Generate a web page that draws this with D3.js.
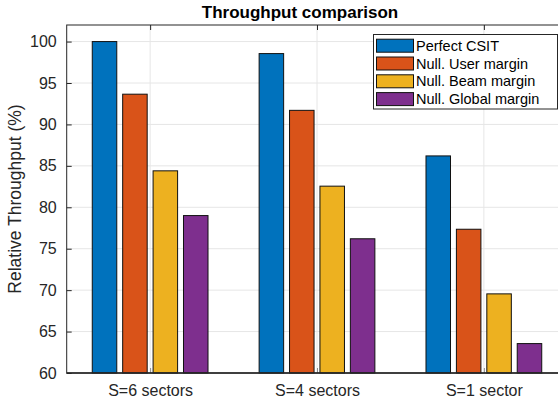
<!DOCTYPE html>
<html lang="en">
  <head>
    <meta charset="UTF-8" />
    <script src="https://d3js.org/d3.v7.min.js"></script>
    <style>
      body {
        margin: 0;
        background: #ffffff;
      }
      svg {
        font-family: "Liberation Sans", Arial, Helvetica, sans-serif;
        display: block;
      }
    </style>
  </head>
  <body>
    <div id="chart"></div>
    <script>
      // Data
      var categories = ["S=6 sectors", "S=4 sectors", "S=1 sector"];
      var seriesNames = [
        "Perfect CSIT",
        "Null. User margin",
        "Null. Beam margin",
        "Null. Global margin",
      ];
      var perfectCsit = [100, 98.55, 86.2];
      var userMargin = [93.65, 91.7, 77.35];
      var beamMargin = [84.4, 82.55, 69.55];
      var globalMargin = [79.0, 76.2, 63.55];
      var yTicks = [60, 65, 70, 75, 80, 85, 90, 95, 100];
      var seriesColors = ["#0072bd", "#d95319", "#edb120", "#7e2f8e"];

      var seriesValues = [perfectCsit, userMargin, beamMargin, globalMargin];

      var width = 558;
      var height = 401;
      var plot = { left: 66.7, top: 25, bottom: 373, right: 567.3 };
      var axisColor = "#262626";

      var svg = d3
        .select("#chart")
        .append("svg")
        .attr("width", width)
        .attr("height", height);

      // Scales: x positions groups at 1..3 like MATLAB's bar()
      var x = d3.scaleLinear().domain([0.5, 3.5]).range([plot.left, plot.right]);
      var y = d3.scaleLinear().domain([60, 102]).range([plot.bottom, plot.top]);
      var inner = d3
        .scaleBand()
        .domain(seriesNames)
        .range([-0.3645, 0.3645])
        .paddingInner(0.194)
        .paddingOuter(0.097);

      // Grid lines
      svg
        .append("g")
        .selectAll("line.hgrid")
        .data(yTicks)
        .enter()
        .append("line")
        .attr("class", "hgrid")
        .attr("x1", plot.left)
        .attr("x2", plot.right)
        .attr("y1", (d) => y(d))
        .attr("y2", (d) => y(d))
        .attr("stroke", "#e6e6e6")
        .attr("stroke-width", 1);

      svg
        .append("g")
        .selectAll("line.vgrid")
        .data(categories)
        .enter()
        .append("line")
        .attr("class", "vgrid")
        .attr("x1", (d, i) => x(i + 1))
        .attr("x2", (d, i) => x(i + 1))
        .attr("y1", plot.top)
        .attr("y2", plot.bottom)
        .attr("stroke", "#e6e6e6")
        .attr("stroke-width", 1);

      // Bars, one group per category
      var rows = [];
      categories.forEach(function (c, i) {
        seriesNames.forEach(function (s, j) {
          rows.push({ cat: i + 1, series: s, idx: j, value: seriesValues[j][i] });
        });
      });

      svg
        .append("g")
        .selectAll("rect")
        .data(rows)
        .enter()
        .append("rect")
        .attr("x", (d) => x(d.cat + inner(d.series)))
        .attr("y", (d) => y(d.value))
        .attr("width", (d) => x(d.cat + inner.bandwidth()) - x(d.cat))
        .attr("height", (d) => y(60) - y(d.value))
        .attr("fill", (d) => seriesColors[d.idx])
        .attr("stroke", "#111111")
        .attr("stroke-width", 1);

      // Axes (box on, ticks inward)
      var yAxis = d3
        .axisLeft(y)
        .tickValues(yTicks)
        .tickSize(-5)
        .tickPadding(10)
        .tickFormat(d3.format("d"));
      var gy = svg
        .append("g")
        .attr("transform", "translate(" + plot.left + ",0)")
        .call(yAxis);
      gy.select(".domain").remove();
      gy.selectAll("line").attr("stroke", axisColor);
      gy.selectAll("text")
        .attr("fill", axisColor)
        .style("font-size", "16px");

      var xAxis = d3
        .axisBottom(x)
        .tickValues([1, 2, 3])
        .tickSize(-5)
        .tickPadding(12)
        .tickFormat((d) => categories[d - 1]);
      var gx = svg
        .append("g")
        .attr("transform", "translate(0," + plot.bottom + ")")
        .call(xAxis);
      gx.select(".domain").remove();
      gx.selectAll("line").attr("stroke", "#8c8c8c");
      gx.selectAll("text")
        .attr("fill", axisColor)
        .style("font-size", "16px");

      var gTop = svg
        .append("g")
        .attr("transform", "translate(0," + plot.top + ")")
        .call(d3.axisTop(x).tickValues([1, 2, 3]).tickSize(-5).tickFormat(""));
      gTop.select(".domain").remove();
      gTop.selectAll("line").attr("stroke", axisColor);

      // Box around plot
      svg
        .append("rect")
        .attr("x", plot.left)
        .attr("y", plot.top)
        .attr("width", plot.right - plot.left)
        .attr("height", plot.bottom - plot.top)
        .attr("fill", "none")
        .attr("stroke", axisColor)
        .attr("stroke-width", 1);
      svg
        .append("line")
        .attr("x1", plot.left)
        .attr("x2", plot.right)
        .attr("y1", plot.bottom)
        .attr("y2", plot.bottom)
        .attr("stroke", axisColor)
        .attr("stroke-width", 1.5);

      // Title and y label
      svg
        .append("text")
        .attr("x", 300)
        .attr("y", 18)
        .attr("text-anchor", "middle")
        .style("font-size", "17px")
        .style("font-weight", "bold")
        .attr("fill", "#000000")
        .text("Throughput comparison");

      svg
        .append("text")
        .attr("transform", "translate(21," + (plot.top + plot.bottom) / 2 + ") rotate(-90)")
        .attr("text-anchor", "middle")
        .style("font-size", "17.5px")
        .attr("fill", axisColor)
        .text("Relative Throughput (%)");

      // Legend
      var legend = svg.append("g").attr("transform", "translate(373.5,34.5)");
      legend
        .append("rect")
        .attr("width", 184)
        .attr("height", 74.5)
        .attr("fill", "#ffffff")
        .attr("stroke", axisColor)
        .attr("stroke-width", 1);

      var item = legend
        .selectAll("g.item")
        .data(seriesNames)
        .enter()
        .append("g")
        .attr("class", "item")
        .attr("transform", (d, i) => "translate(0," + (11.2 + i * 17.8) + ")");

      item
        .append("rect")
        .attr("x", 3)
        .attr("y", -6.5)
        .attr("width", 37)
        .attr("height", 13)
        .attr("fill", (d, i) => seriesColors[i])
        .attr("stroke", "#111111")
        .attr("stroke-width", 1);

      item
        .append("text")
        .attr("x", 42.5)
        .attr("y", 5)
        .style("font-size", "14.5px")
        .attr("fill", "#000000")
        .text((d) => d);
    </script>
  </body>
</html>
